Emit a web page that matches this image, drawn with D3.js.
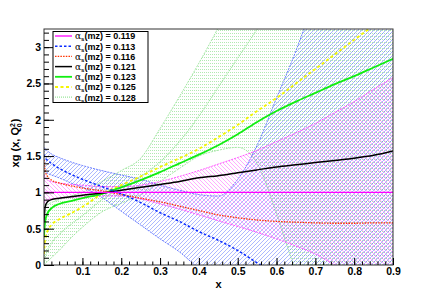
<!DOCTYPE html>
<html>
<head>
<meta charset="utf-8">
<script src="https://d3js.org/d3.v7.min.js"></script>
<style>
  body { margin: 0; background: #fff; }
  svg { display: block; font-family: "Liberation Sans", Arial, sans-serif; }
</style>
</head>
<body>
<svg width="437" height="295"></svg>
<script>
// x grid the curves are sampled on
const xVals = [0.001, 0.004, 0.01, 0.02, 0.04, 0.07, 0.1, 0.15, 0.2, 0.25, 0.3, 0.35,
               0.4, 0.45, 0.5, 0.55, 0.6, 0.65, 0.7, 0.75, 0.8, 0.85, 0.9];

// central curves, one per alpha_s
const c119 = [1, 1, 1, 1, 1, 1, 1, 1, 1, 1, 1, 1, 1, 1, 1, 1, 1, 1, 1, 1, 1, 1, 1];
const c113 = [1.52, 1.48, 1.44, 1.4, 1.33, 1.25, 1.18, 1.08, 0.98, 0.86, 0.72, 0.6,
              0.46, 0.34, 0.2, 0.03, -0.13, -0.28, -0.42, -0.56, -0.7, -0.85, -1.0];
const c116 = [1.45, 1.3, 1.22, 1.17, 1.13, 1.09, 1.06, 1.02, 0.97, 0.92, 0.87, 0.81,
              0.75, 0.69, 0.65, 0.62, 0.6, 0.59, 0.58, 0.575, 0.575, 0.58, 0.58];
const c121 = [0.6, 0.8, 0.87, 0.9, 0.92, 0.94, 0.96, 0.99, 1.03, 1.07, 1.11, 1.15,
              1.2, 1.23, 1.27, 1.31, 1.35, 1.38, 1.41, 1.44, 1.47, 1.51, 1.57];
const c123 = [0.4, 0.6, 0.71, 0.78, 0.84, 0.88, 0.92, 0.98, 1.07, 1.17, 1.28, 1.4,
              1.52, 1.65, 1.8, 1.97, 2.12, 2.25, 2.37, 2.49, 2.6, 2.72, 2.84];
const c125 = [0.15, 0.35, 0.47, 0.55, 0.63, 0.71, 0.8, 0.98, 1.1, 1.22, 1.35, 1.47,
              1.6, 1.76, 1.93, 2.12, 2.3, 2.5, 2.7, 2.9, 3.1, 3.3, 3.5];
const c128 = [0.0, 0.1, 0.2, 0.3, 0.42, 0.56, 0.68, 0.9, 1.07, 1.22, 1.42, 1.7,
              2.05, 2.45, 2.85, 3.25, 3.7, 4.2, 4.7, 5.2, 5.7, 6.2, 6.7];

// uncertainty bands
const band119Up = [1.25, 1.2, 1.17, 1.15, 1.13, 1.11, 1.1, 1.08, 1.08, 1.1, 1.15, 1.22,
                   1.3, 1.39, 1.48, 1.58, 1.7, 1.82, 1.95, 2.1, 2.25, 2.42, 2.58];
const band119Lo = [0.85, 0.88, 0.9, 0.91, 0.92, 0.93, 0.94, 0.95, 0.95, 0.91, 0.84, 0.77,
                   0.69, 0.61, 0.53, 0.45, 0.36, 0.26, 0.15, 0.0, -0.15, -0.3, -0.45];
const band113Up = [1.62, 1.6, 1.57, 1.53, 1.48, 1.42, 1.37, 1.3, 1.24, 1.18, 1.1, 1.03,
                   0.97, 0.95, 1.18, 1.65, 2.3, 2.95, 3.7, 4.5, 5.3, 6.1, 7.0];
const band113Lo = [1.3, 1.28, 1.26, 1.24, 1.2, 1.13, 1.07, 0.93, 0.74, 0.55, 0.36, 0.18,
                   -0.05, -0.25, -0.45, -0.65, -0.85, -1.05, -1.25, -1.45, -1.65, -1.85, -2.05];
const band128Up = [0.75, 0.8, 0.83, 0.86, 0.9, 0.95, 1.0, 1.15, 1.3, 1.47, 1.88, 2.32,
                   2.78, 3.27, 3.8, 4.3, 4.8, 5.3, 5.8, 6.3, 6.8, 7.3, 7.8];
const band128Lo = [0.0, 0.02, 0.05, 0.1, 0.2, 0.37, 0.52, 0.73, 0.85, 0.97, 1.15, 1.33,
                   1.5, 1.58, 1.62, 1.4, 0.7, -0.1, -0.8, -1.5, -2.2, -2.9, -3.6];

const alphaLabels = ['0.119', '0.113', '0.116', '0.121', '0.123', '0.125', '0.128'];
const xTicks = [0.1, 0.2, 0.3, 0.4, 0.5, 0.6, 0.7, 0.8, 0.9];
const yTicks = [0, 0.5, 1, 1.5, 2, 2.5, 3];

const svg = d3.select('svg');
const x = d3.scaleLinear().domain([0.001, 0.9]).range([44, 393]);
const y = d3.scaleLinear().domain([0, 3.25]).range([265, 29]);

const defs = svg.append('defs');
defs.append('clipPath').attr('id', 'plotClip')
  .append('rect')
  .attr('x', x.range()[0]).attr('y', y.range()[1])
  .attr('width', x.range()[1] - x.range()[0])
  .attr('height', y.range()[0] - y.range()[1]);

// ROOT-like one pixel hatching
function hatch(id, color, opacity, path, w, h) {
  defs.append('pattern')
    .attr('id', id)
    .attr('patternUnits', 'userSpaceOnUse')
    .attr('width', w).attr('height', h)
    .append('path')
    .attr('d', path)
    .attr('stroke', color)
    .attr('stroke-opacity', opacity)
    .attr('stroke-width', 1)
    .attr('shape-rendering', 'crispEdges')
    .attr('fill', 'none');
}
hatch('hGreen', '#7fd87f', 0.6, 'M0,0.5H1M2,0.5H3', 4, 3);
hatch('hBlue', '#3a55ff', 0.42, 'M0,4L4,0M-1,1L1,-1M3,5L5,3', 4, 4);
hatch('hMag', '#ff33ff', 0.4, 'M0,0L4,4M-1,3L1,5M3,-1L5,1', 4, 4);

const plot = svg.append('g').attr('clip-path', 'url(#plotClip)');

const area = (lo, up) => d3.area()
  .x((d, i) => x(xVals[i]))
  .y0((d, i) => y(lo[i]))
  .y1((d, i) => y(up[i]))
  .curve(d3.curveMonotoneX)(xVals);

const edge = d3.line()
  .x((d, i) => x(xVals[i]))
  .y(d => y(d))
  .curve(d3.curveMonotoneX);

const bands = [
  { lo: band128Lo, up: band128Up, fill: 'url(#hGreen)', edge: '#9be49b' },
  { lo: band113Lo, up: band113Up, fill: 'url(#hBlue)', edge: '#5a70ff' },
  { lo: band119Lo, up: band119Up, fill: 'url(#hMag)', edge: '#ff44ff' }
];
bands.forEach(b => {
  plot.append('path').attr('d', area(b.lo, b.up)).attr('fill', b.fill);
  [b.lo, b.up].forEach(v => {
    plot.append('path')
      .attr('d', edge(v))
      .attr('fill', 'none').attr('stroke', b.edge).attr('stroke-width', 0.9)
      .attr('stroke-dasharray', '2,1');
  });
});

const series = [
  { values: c119, color: '#ff00ff', dash: null, width: 1.3 },
  { values: c113, color: '#0a2cff', dash: '2.5,2', width: 1.5 },
  { values: c116, color: '#ff3300', dash: '1.5,1.2', width: 1.3 },
  { values: c121, color: '#000000', dash: null, width: 1.5 },
  { values: c123, color: '#11ee11', dash: null, width: 1.8 },
  { values: c125, color: '#f5f500', dash: '3,2.5', width: 1.8 },
  { values: c128, color: '#99e699', dash: '1,1', width: 1.2 }
];

series.slice().reverse().forEach(s => {
  plot.append('path')
    .attr('d', edge(s.values))
    .attr('fill', 'none')
    .attr('stroke', s.color)
    .attr('stroke-width', s.width)
    .attr('stroke-dasharray', s.dash);
});

// frame
svg.append('rect')
  .attr('x', x.range()[0]).attr('y', y.range()[1])
  .attr('width', x.range()[1] - x.range()[0])
  .attr('height', y.range()[0] - y.range()[1])
  .attr('fill', 'none').attr('stroke', '#333').attr('stroke-width', 1);

// axes: ticks drawn inside the frame
const xMinor = d3.range(0.02, 0.9001, 0.02);
const yMinor = d3.range(0.1, 3.2501, 0.1);

const xAxisG = svg.append('g').attr('transform', `translate(0,${y.range()[0]})`);
xAxisG.append('g').call(d3.axisBottom(x).tickValues(xMinor).tickSize(-3.5).tickFormat(''));
xAxisG.append('g').call(d3.axisBottom(x).tickValues(xTicks).tickSize(-7).tickPadding(3)
  .tickFormat(d3.format('.1f')));
xAxisG.selectAll('.domain').remove();

const yAxisG = svg.append('g').attr('transform', `translate(${x.range()[0]},0)`);
yAxisG.append('g').call(d3.axisLeft(y).tickValues(yMinor).tickSize(-5).tickFormat(''));
yAxisG.append('g').call(d3.axisLeft(y).tickValues(yTicks).tickSize(-10).tickPadding(3)
  .tickFormat(d => String(d)));
yAxisG.selectAll('.domain').remove();

svg.selectAll('.tick line').attr('stroke', '#000');
svg.selectAll('.tick text')
  .attr('font-family', '"Liberation Sans", Arial, sans-serif')
  .attr('font-size', 10.5).attr('font-weight', 'bold').attr('fill', '#000');

// axis titles
svg.append('text')
  .attr('x', (x.range()[0] + x.range()[1]) / 2).attr('y', 288)
  .attr('text-anchor', 'middle')
  .attr('font-size', 11).attr('font-weight', 'bold')
  .text('x');

const yTitle = svg.append('text')
  .attr('transform', 'translate(19,143) rotate(-90)')
  .attr('text-anchor', 'middle')
  .attr('font-size', 11).attr('font-weight', 'bold');
yTitle.append('tspan').text('xg (x, Q');
yTitle.append('tspan').attr('font-size', 7).attr('dy', -4.5).text('2');
yTitle.append('tspan').attr('font-size', 7).attr('dx', -4).attr('dy', 7.5).text('0');
yTitle.append('tspan').attr('dy', -3).attr('dx', 1).text(')');

// legend
const legend = svg.append('g');
legend.append('rect')
  .attr('x', 53).attr('y', 31.5).attr('width', 95).attr('height', 71)
  .attr('fill', '#fff').attr('stroke', '#000').attr('stroke-width', 1);

series.forEach((s, i) => {
  const ly = 36 + i * 10.2;
  legend.append('line')
    .attr('x1', 55).attr('x2', 72).attr('y1', ly).attr('y2', ly)
    .attr('stroke', s.color).attr('stroke-width', s.width)
    .attr('stroke-dasharray', s.dash);
  const t = legend.append('text')
    .attr('x', 75).attr('y', ly + 3.3)
    .attr('font-size', 9).attr('font-weight', 'bold');
  t.append('tspan').attr('font-weight', 'normal').attr('font-family', '"DejaVu Serif", serif').text('α');
  t.append('tspan').attr('font-size', 6).attr('dy', 2).text('s');
  t.append('tspan').attr('dy', -2).text('(mz) = ' + alphaLabels[i]);
});
</script>
</body>
</html>
